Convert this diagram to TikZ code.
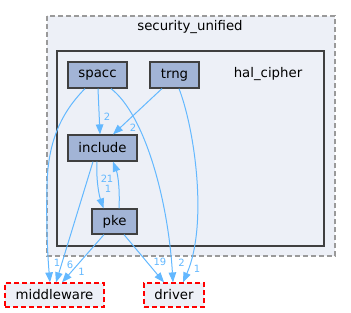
\documentclass[tikz,border=0pt]{standalone}
\usepackage{fontspec}
\setmainfont{DejaVu Sans}
\usetikzlibrary{arrows.meta}
\definecolor{nodefill}{HTML}{A2B4D6}
\definecolor{nodeline}{HTML}{404040}
\definecolor{clfill}{HTML}{EDF0F7}
\definecolor{edgec}{HTML}{63B8FF}
\definecolor{dashgray}{HTML}{9A9A9A}
\begin{document}
\begin{tikzpicture}[x=1pt,y=-1pt,
  dirbox/.style={draw=nodeline,fill=nodefill,line width=1.2pt,inner sep=0pt,
    font=\fontsize{13.3}{16}\selectfont},
  extbox/.style={draw=red,fill=clfill,line width=1.2pt,dash pattern=on 5pt off 3pt,inner sep=0pt,
    font=\fontsize{13.3}{16}\selectfont},
  edge/.style={draw=edgec,line width=1pt,-{Triangle[length=10pt,width=7.5pt]}},
  elabel/.style={text=edgec,font=\fontsize{10}{12}\selectfont,inner sep=0pt},
  cltitle/.style={font=\fontsize{13.3}{16}\selectfont,inner sep=0pt}]
\useasboundingbox (0,0) rectangle (351,313);
% clusters
\draw[dashgray,fill=clfill,line width=1.2pt,dash pattern=on 5pt off 3pt] (47,16) rectangle (335,256);
\node[cltitle] (sectitle) at (190,27) {security\_unified};
\draw[nodeline,fill=clfill,line width=2.2pt] (57,51) rectangle (324,246);
\node[cltitle] (haltitle) at (268,74) {hal\_cipher};
% nodes
\node[dirbox,minimum width=59pt,minimum height=26pt] (spacc) at (97.5,75) {spacc};
\node[dirbox,minimum width=49pt,minimum height=26pt] (trng) at (174.5,75) {trng};
\node[dirbox,minimum width=69pt,minimum height=26pt] (include) at (102.5,148) {include};
\node[dirbox,minimum width=45pt,minimum height=25pt] (pke) at (114.5,221.5) {pke};
\node[extbox,minimum width=99pt,minimum height=24pt] (middleware) at (54.5,295) {middleware};
\node[extbox,minimum width=60pt,minimum height=24pt] (driver) at (174,295) {driver};
% edges
\draw[edge] ([xshift=0.5pt]spacc.south) -- ([xshift=-2.5pt]include.north);
\draw[edge] ([xshift=-12.5pt]spacc.south) .. controls (62,112) and (48,140) .. (47,185) .. controls (46,230) and (48,260) .. ([xshift=-4.5pt]middleware.north);
\draw[edge] ([xshift=13.5pt]spacc.south) .. controls (145,115) and (168,200) .. ([xshift=-1pt]driver.north);
\draw[edge] ([xshift=-12.5pt]trng.south) -- ([xshift=10.5pt]include.north);
\draw[edge] ([xshift=4.5pt]trng.south) .. controls (195,130) and (208,225) .. ([xshift=9pt]driver.north);
\draw[edge] ([xshift=-5.5pt]include.south) .. controls (96,180) and (99,195) .. ([xshift=-11pt]pke.north);
\draw[edge] ([xshift=4.5pt]pke.north) .. controls (120,190) and (118,175) .. ([xshift=10.5pt]include.south);
\draw[edge] ([xshift=-9.5pt]include.south) -- ([xshift=1.5pt]middleware.north);
\draw[edge] ([xshift=-10.5pt]pke.south) -- ([xshift=7.5pt]middleware.north);
\draw[edge] ([xshift=9.5pt]pke.south) -- ([xshift=-10pt]driver.north);
% edge labels
\node[elabel] (l1) at (107,117) {2};
\node[elabel] (l2) at (133,128) {2};
\node[elabel] (l3) at (104,179) {2};
\node[elabel] (l4) at (110,179) {1};
\node[elabel] (l5) at (108,189) {1};
\node[elabel] (l6) at (57,263) {1};
\node[elabel] (l7) at (70,265) {6};
\node[elabel] (l8) at (81.5,272) {1};
\node[elabel] (l9) at (160,262) {19};
\node[elabel] (l10) at (181.5,263) {2};
\node[elabel] (l11) at (197,269) {1};
\end{tikzpicture}
\end{document}
